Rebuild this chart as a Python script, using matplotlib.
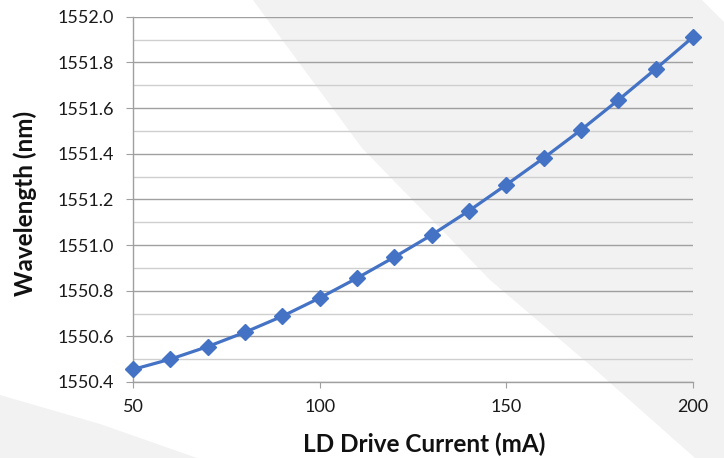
import matplotlib
matplotlib.use('Agg')
import matplotlib.pyplot as plt
from matplotlib.patches import Polygon
from matplotlib.ticker import MultipleLocator

# data
current = [50, 60, 70, 80, 90, 100, 110, 120, 130, 140, 150, 160, 170, 180, 190, 200]
wavelength = [1550.455, 1550.500, 1550.555, 1550.618, 1550.688, 1550.768, 1550.855,
              1550.947, 1551.044, 1551.150, 1551.264, 1551.381, 1551.504, 1551.635,
              1551.771, 1551.911]
x_ticks = [50, 100, 150, 200]
y_ticks = [1550.4, 1550.6, 1550.8, 1551.0, 1551.2, 1551.4, 1551.6, 1551.8, 1552.0]

plt.rcParams['font.family'] = ['Lato', 'DejaVu Sans']

W, H = 724, 458
fig = plt.figure(figsize=(W / 100, H / 100), dpi=100)
fig.patch.set_facecolor('white')


def px(pts):
    # pixel coords (from top-left) -> figure fraction
    return [(x / W, 1 - y / H) for x, y in pts]


# light grey decoration behind the chart
right_shape = px([(253, 0), (702, 0), (724, 22), (724, 458), (695, 458), (590, 365),
                  (490, 280), (441, 229), (393, 180), (362, 148), (300, 64)])
left_shape = px([(0, 395), (100, 424), (197, 458), (0, 458)])
for shape in (right_shape, left_shape):
    fig.patches.append(Polygon(shape, closed=True, transform=fig.transFigure,
                               facecolor='#f2f2f2', edgecolor='none', zorder=-10))

ax = fig.add_axes([133 / W, 1 - 382 / H, 560 / W, (382 - 16.7) / H])
ax.set_facecolor('none')

ax.plot(current, wavelength, color='#4472c4', linewidth=2.3, marker='D',
        markersize=8, clip_on=False, zorder=5)

ax.set_xlim(50, 200)
ax.set_ylim(1550.4, 1552.0)
ax.set_xticks(x_ticks)
ax.set_yticks(y_ticks)
ax.set_yticklabels(['%.1f' % v for v in y_ticks])
ax.yaxis.set_minor_locator(MultipleLocator(0.1))

ax.grid(True, which='major', axis='y', color='#a0a0a0', linewidth=1.0)
ax.grid(True, which='minor', axis='y', color='#cfcfcf', linewidth=1.0)
ax.set_axisbelow(True)

for s in ('top', 'right'):
    ax.spines[s].set_visible(False)
for s in ('left', 'bottom'):
    ax.spines[s].set_color('#a0a0a0')
    ax.spines[s].set_linewidth(1.0)

ax.tick_params(axis='y', which='major', length=5, color='#a0a0a0', pad=9,
               labelsize=13, labelcolor='#1a1a1a')
ax.tick_params(axis='y', which='minor', length=0)
ax.tick_params(axis='x', which='major', length=4.5, color='#a0a0a0', pad=8,
               labelsize=13, labelcolor='#1a1a1a')

ax.set_xlabel('LD Drive Current (mA)', fontsize=17.5, fontweight='bold', color='#111111')
ax.xaxis.set_label_coords(0.52, -0.137)
ax.set_ylabel('Wavelength (nm)', fontsize=17.5, fontweight='bold', color='#111111')
ax.yaxis.set_label_coords(-0.172, 0.489)

fig.savefig('out.png', dpi=100)
